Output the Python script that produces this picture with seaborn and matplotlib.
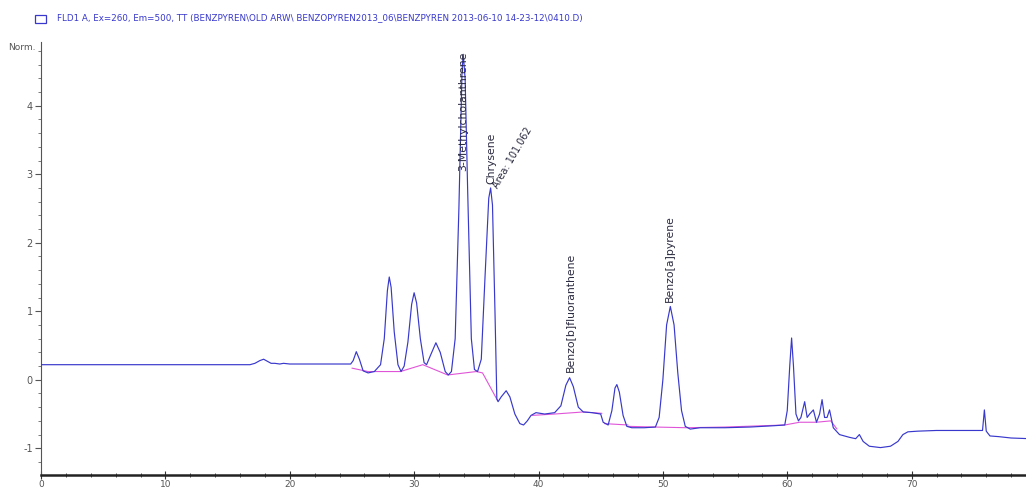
import numpy as np
import pandas as pd
import matplotlib
matplotlib.use("Agg")
import matplotlib.pyplot as plt
from matplotlib.patches import Rectangle
from matplotlib.ticker import MultipleLocator
import seaborn as sns

# FLD1 A signal (retention time in min, signal in Norm.)
time_min = [
    0.0, 16.8, 17.2, 17.6, 17.9, 18.2, 18.5, 18.8, 19.2, 19.5, 20.0, 22.0, 24.9,
    25.1, 25.35, 25.6, 25.9, 26.3, 26.8, 27.3, 27.6, 27.85, 28.0, 28.15, 28.4,
    28.7, 28.95, 29.2, 29.5, 29.8, 30.0, 30.2, 30.5, 30.8, 31.0, 31.3, 31.75,
    32.1, 32.5, 32.75, 33.0, 33.3, 33.6, 33.85, 33.95, 34.1, 34.3, 34.6, 34.85,
    35.1, 35.4, 35.7, 36.0, 36.15, 36.3, 36.5, 36.65, 36.75, 37.0, 37.4, 37.7,
    38.1, 38.5, 38.8, 39.1, 39.4, 39.8, 40.5, 41.3, 41.8, 42.2, 42.5, 42.8,
    43.2, 43.6, 44.3, 45.0, 45.2, 45.6, 45.9, 46.15, 46.3, 46.5, 46.8, 47.1,
    47.5, 48.5, 49.4, 49.7, 50.0, 50.3, 50.6, 50.9, 51.2, 51.5, 51.8, 52.2,
    53.0, 55.0, 57.0, 59.0, 59.8, 60.0, 60.2, 60.35, 60.5, 60.7, 60.9, 61.1,
    61.4, 61.6, 61.8, 62.1, 62.35, 62.6, 62.8, 63.0, 63.2, 63.4, 63.7, 64.2,
    65.0, 65.5, 65.8, 66.1, 66.6, 67.5, 68.3, 68.9, 69.3, 69.7, 70.5, 72.0,
    74.0, 75.7, 75.85, 76.0, 76.3, 77.0, 78.0, 79.5,
]
signal = [
    0.22, 0.22, 0.24, 0.28, 0.30, 0.27, 0.24, 0.24, 0.23, 0.24, 0.23, 0.23, 0.23,
    0.28, 0.41, 0.30, 0.13, 0.10, 0.12, 0.22, 0.60, 1.30, 1.50, 1.35, 0.70,
    0.22, 0.12, 0.20, 0.55, 1.10, 1.27, 1.12, 0.60, 0.25, 0.22, 0.35, 0.54,
    0.40, 0.12, 0.07, 0.12, 0.60, 2.50, 4.50, 4.75, 4.40, 2.80, 0.60, 0.15,
    0.12, 0.30, 1.50, 2.65, 2.80, 2.55, 1.00, -0.28, -0.32, -0.25, -0.16, -0.25,
    -0.50, -0.64, -0.66, -0.60, -0.52, -0.48, -0.50, -0.48, -0.38, -0.08, 0.03, -0.10,
    -0.40, -0.47, -0.48, -0.50, -0.62, -0.66, -0.45, -0.12, -0.07, -0.18, -0.52, -0.68,
    -0.70, -0.70, -0.69, -0.55, 0.00, 0.80, 1.07, 0.80, 0.10, -0.45, -0.68, -0.72,
    -0.70, -0.70, -0.69, -0.67, -0.66, -0.45, 0.20, 0.61, 0.20, -0.50, -0.60, -0.55,
    -0.32, -0.55, -0.50, -0.44, -0.62, -0.50, -0.29, -0.55, -0.55, -0.44, -0.70, -0.80,
    -0.84, -0.86, -0.80, -0.90, -0.97, -0.99, -0.97, -0.90, -0.80, -0.76, -0.75, -0.74,
    -0.74, -0.74, -0.44, -0.75, -0.82, -0.83, -0.85, -0.86,
]

# Integration baselines drawn under the peaks
baseline_time = [
    [25.0, 26.3, 28.9, 30.7, 32.7, 35.0, 35.5, 36.7],
    [39.5, 41.3, 43.6, 45.1],
    [45.3, 47.2],
    [47.2, 49.4, 51.9, 55.0, 59.8, 61.0, 62.35, 63.5, 64.0],
]
baseline_signal = [
    [0.17, 0.12, 0.12, 0.22, 0.07, 0.12, 0.10, -0.30],
    [-0.52, -0.50, -0.47, -0.49],
    [-0.64, -0.66],
    [-0.68, -0.69, -0.70, -0.69, -0.66, -0.62, -0.62, -0.60, -0.72],
]

# Peak annotations
peak_names = ["3-Methylcholanthrene", "Chrysene", "Benzo[b]fluoranthene", "Benzo[a]pyrene"]
peak_times = [33.95, 36.2, 42.5, 50.55]
peak_label_bottom = [3.04, 2.86, 0.12, 1.14]
area_text = "Area: 101.062"

legend_text = ("FLD1 A, Ex=260, Em=500, TT (BENZPYREN\\OLD ARW\\ BENZOPYREN2013_06"
               "\\BENZPYREN 2013-06-10 14-23-12\\0410.D)")

x_ticks = [0, 10, 20, 30, 40, 50, 60, 70, 80]
y_ticks = [-1, 0, 1, 2, 3, 4]

sns.set_theme(style="white")
plt.rcParams["font.family"] = ["DejaVu Sans"]

W, H = 1026, 490
fig = plt.figure(figsize=(W / 100, H / 100), dpi=100)
left_px, right_px, bottom_px, top_px = 41, 1036, 475, 42
ax = fig.add_axes([left_px / W, 1 - bottom_px / H,
                   (right_px - left_px) / W, (bottom_px - top_px) / H])

trace_color = "#3838cc"
base_color = "#e055d8"

df = pd.DataFrame({"time": time_min, "signal": signal})
sns.lineplot(data=df, x="time", y="signal", ax=ax, color=trace_color,
             lw=0.85, estimator=None, sort=False, zorder=3)
for bt, bs in zip(baseline_time, baseline_signal):
    sns.lineplot(x=bt, y=bs, ax=ax, color=base_color, lw=0.8,
                 estimator=None, sort=False, zorder=2)

ax.set_xlim(0, 80)
ax.set_ylim(-1.39, 4.93)
ax.set_xlabel("")
ax.set_ylabel("")

for s in ["top", "right"]:
    ax.spines[s].set_visible(False)
ax.spines["left"].set_color("#555555")
ax.spines["left"].set_linewidth(0.8)
ax.spines["bottom"].set_color("#222222")
ax.spines["bottom"].set_linewidth(1.8)

ax.set_xticks(x_ticks)
ax.set_yticks(y_ticks)
ax.xaxis.set_minor_locator(MultipleLocator(2))
ax.yaxis.set_minor_locator(MultipleLocator(0.2))
ax.tick_params(axis="x", which="major", direction="inout", length=6, width=0.8,
               color="#333333", labelsize=6.5, labelcolor="#555555", pad=0.5,
               bottom=True)
ax.tick_params(axis="x", which="minor", direction="inout", length=3, width=0.7,
               color="#444444", bottom=True)
ax.tick_params(axis="y", which="major", direction="out", length=4, width=0.8,
               color="#555555", labelsize=7, labelcolor="#555555", pad=2, left=True)
ax.tick_params(axis="y", which="minor", direction="out", length=2, width=0.6,
               color="#666666", left=True)
ax.set_yticklabels([str(v) for v in y_ticks])
ax.set_xticklabels([str(v) for v in x_ticks])

label_color = "#2a2a40"
for name, t, yb in zip(peak_names, peak_times, peak_label_bottom):
    ax.text(t, yb, name, rotation=90, ha="center", va="bottom", fontsize=7.8,
            color=label_color, zorder=4)
ax.text(36.55, 2.80, area_text, rotation=60, rotation_mode="anchor",
        ha="left", va="center", fontsize=7, color=label_color, zorder=4)

# Unit label and signal legend
fig.text(8 / W, 1 - 48 / H, "Norm.", fontsize=6.5, color="#555555",
         ha="left", va="center")
fig.patches.append(Rectangle((35 / W, 1 - 23 / H), 11 / W, 8 / H,
                             transform=fig.transFigure, fill=False,
                             edgecolor=trace_color, lw=0.9))
fig.text(57 / W, 1 - 18 / H, legend_text, fontsize=6.3, color=trace_color,
         ha="left", va="center")

fig.savefig("out.png", dpi=100)
